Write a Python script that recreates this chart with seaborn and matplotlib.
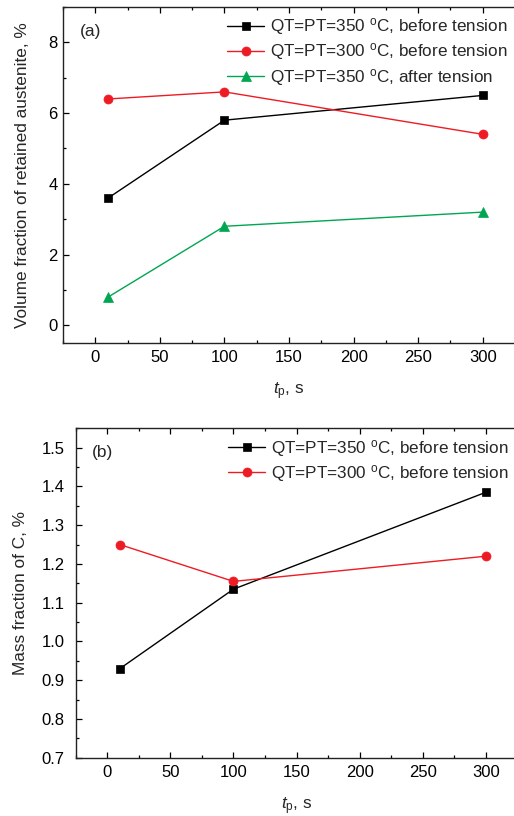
import matplotlib
matplotlib.use("Agg")
import matplotlib.pyplot as plt
import seaborn as sns
import pandas as pd
from matplotlib.ticker import MultipleLocator, FormatStrFormatter

# Data
tp = [10, 100, 300]
va_350_before = [3.6, 5.8, 6.5]
va_300_before = [6.4, 6.6, 5.4]
va_350_after = [0.8, 2.8, 3.2]
mc_350_before = [0.93, 1.135, 1.385]
mc_300_before = [1.25, 1.155, 1.22]

lab350b = r"QT=PT=350 $^{\mathrm{o}}$C, before tension"
lab300b = r"QT=PT=300 $^{\mathrm{o}}$C, before tension"
lab350a = r"QT=PT=350 $^{\mathrm{o}}$C, after tension"

sns.set_theme(style="ticks")
plt.rcParams['font.family'] = ['Liberation Sans', 'DejaVu Sans']
plt.rcParams['mathtext.fontset'] = 'custom'
plt.rcParams['mathtext.rm'] = 'Liberation Sans'
plt.rcParams['mathtext.it'] = 'Liberation Sans:italic'
plt.rcParams['mathtext.bf'] = 'Liberation Sans:bold'

BLACK = '#000000'
RED = '#ED1C24'
GREEN = '#00A651'

fig = plt.figure(figsize=(5.14, 8.16), dpi=100)
ax1 = fig.add_axes([0.1226, 0.5797, 1.002 - 0.1226, 0.9914 - 0.5797])
ax2 = fig.add_axes([0.1473, 0.0714, 1.0068 - 0.1473, 0.4751 - 0.0714])

def draw(ax, x, y, color, marker, label, ms):
    df = pd.DataFrame({"x": x, "y": y})
    sns.lineplot(data=df, x="x", y="y", ax=ax, color=color, marker=marker,
                 markersize=ms, markeredgecolor=color, markeredgewidth=0.5,
                 linewidth=1.0, label=label)

draw(ax1, tp, va_350_before, BLACK, 's', lab350b, 5.8)
draw(ax1, tp, va_300_before, RED, 'o', lab300b, 6.5)
draw(ax1, tp, va_350_after, GREEN, '^', lab350a, 7)

draw(ax2, tp, mc_350_before, BLACK, 's', lab350b, 5.8)
draw(ax2, tp, mc_300_before, RED, 'o', lab300b, 6.5)

for ax, anchor in ((ax1, (1.011, 1.008)), (ax2, (1.008, 1.007))):
    ax.set_xlim(-25, 325)
    ax.xaxis.set_major_locator(MultipleLocator(50))
    ax.xaxis.set_minor_locator(MultipleLocator(25))
    ax.tick_params(which='both', direction='in', top=True, right=False,
                   labelsize=12, colors='black')
    ax.tick_params(which='major', length=4.5, width=0.9, pad=5)
    ax.tick_params(which='minor', length=2.3, width=0.9)
    for s in ax.spines.values():
        s.set_linewidth(1.0)
        s.set_color('#222222')
    ax.set_xlabel(r"$t_{\mathrm{p}}$, s", fontsize=12.4, labelpad=11)
    ax.legend(loc='upper right', frameon=False, fontsize=12.35,
              handlelength=2.2, handletextpad=0.35, labelspacing=0.24,
              borderaxespad=0.3, bbox_to_anchor=anchor)

ax1.set_ylim(-0.5, 9)
ax1.yaxis.set_major_locator(MultipleLocator(2))
ax1.yaxis.set_minor_locator(MultipleLocator(1))
ax1.tick_params(axis='y', which='major', pad=4)
ax1.set_ylabel("Volume fraction of retained austenite, %", fontsize=12.4, labelpad=13)
ax1.text(0.038, 0.926, "(a)", transform=ax1.transAxes, fontsize=12.5, va='center')

ax2.set_ylim(0.7, 1.55)
ax2.yaxis.set_major_locator(MultipleLocator(0.1))
ax2.yaxis.set_minor_locator(MultipleLocator(0.05))
ax2.yaxis.set_major_formatter(FormatStrFormatter('%.1f'))
ax2.tick_params(axis='y', which='major', pad=8)
ax2.set_ylabel("Mass fraction of C, %", fontsize=12.4, labelpad=10)
ax2.text(0.037, 0.928, "(b)", transform=ax2.transAxes, fontsize=12.5, va='center')

fig.savefig("out.png", dpi=100)
